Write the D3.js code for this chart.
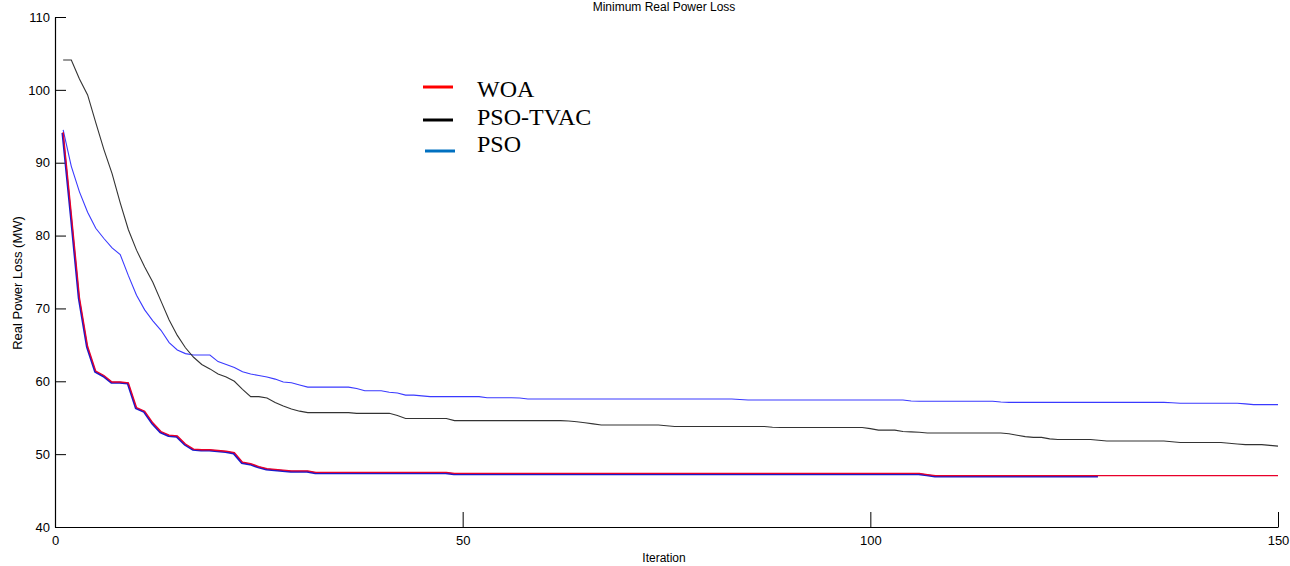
<!DOCTYPE html>
<html><head><meta charset="utf-8">
<script src="https://cdn.jsdelivr.net/npm/d3@7"></script>
<style>body{margin:0;background:#fff;}svg{display:block;}</style>
</head><body>
<svg id="c" width="1290" height="566"></svg>
<script>
const iterations = d3.range(1, 151);
const woa = [94.2,83.0,71.5,64.8,61.4,60.8,59.9,59.9,59.8,56.4,55.9,54.3,53.1,52.6,52.5,51.4,50.7,50.6,50.6,50.5,
 50.4,50.2,48.9,48.7,48.3,48.0,47.9,47.8,47.7,47.7,47.7,47.5,47.5,47.5,47.5,47.5,47.5,47.5,47.5,47.5,
 47.5,47.5,47.5,47.5,47.5,47.5,47.5,47.5,47.35,47.35,47.35,47.35,47.35,47.35,47.35,47.35,47.35,47.35,47.35,47.35,
 47.35,47.35,47.35,47.35,47.35,47.35,47.35,47.35,47.35,47.35,47.35,47.35,47.35,47.35,47.35,47.35,47.35,47.35,47.35,47.35,
 47.35,47.35,47.35,47.35,47.35,47.35,47.35,47.35,47.35,47.35,47.35,47.35,47.35,47.35,47.35,47.35,47.35,47.35,47.35,47.35,
 47.35,47.35,47.35,47.35,47.35,47.35,47.2,47.05,47.05,47.05,47.05,47.05,47.05,47.05,47.05,47.05,47.05,47.05,47.05,47.05,
 47.05,47.05,47.05,47.05,47.05,47.05,47.05,47.05,47.05,47.05,47.05,47.05,47.05,47.05,47.05,47.05,47.05,47.05,47.05,47.05,
 47.05,47.05,47.05,47.05,47.05,47.05,47.05,47.05,47.05,47.05];
const woaTraceLength = 128;
const psoTvac = [104.1,104.1,101.5,99.3,95.5,91.8,88.5,84.5,80.8,78.0,75.7,73.6,71.0,68.4,66.3,64.6,63.3,62.3,61.7,61.0,
 60.6,60.0,58.9,57.9,57.9,57.7,57.1,56.6,56.2,55.9,55.7,55.7,55.7,55.7,55.7,55.7,55.6,55.6,55.6,55.6,
 55.6,55.3,54.9,54.9,54.9,54.9,54.9,54.9,54.6,54.6,54.6,54.6,54.6,54.6,54.6,54.6,54.6,54.6,54.6,54.6,
 54.6,54.6,54.55,54.45,54.3,54.15,54.0,54.0,54.0,54.0,54.0,54.0,54.0,54.0,53.9,53.8,53.8,53.8,53.8,53.8,
 53.8,53.8,53.8,53.8,53.8,53.8,53.8,53.7,53.65,53.65,53.65,53.65,53.65,53.65,53.65,53.65,53.65,53.65,53.65,53.5,
 53.3,53.3,53.3,53.1,53.05,53.0,52.9,52.9,52.9,52.9,52.9,52.9,52.9,52.9,52.9,52.9,52.8,52.6,52.4,52.3,
 52.3,52.1,52.0,52.0,52.0,52.0,52.0,51.9,51.8,51.8,51.8,51.8,51.8,51.8,51.8,51.8,51.7,51.6,51.6,51.6,
 51.6,51.6,51.6,51.5,51.4,51.3,51.3,51.3,51.2,51.1];
const pso = [94.5,89.5,86.0,83.2,81.0,79.6,78.3,77.4,74.5,71.8,69.8,68.3,67.0,65.3,64.3,63.8,63.6,63.6,63.6,62.7,
 62.3,61.9,61.3,61.0,60.8,60.6,60.3,59.9,59.8,59.5,59.2,59.2,59.2,59.2,59.2,59.2,59.0,58.7,58.7,58.7,
 58.5,58.4,58.1,58.1,58.0,57.9,57.9,57.9,57.9,57.9,57.9,57.9,57.75,57.75,57.75,57.75,57.7,57.57,57.57,57.57,
 57.57,57.57,57.57,57.57,57.57,57.57,57.57,57.57,57.57,57.57,57.57,57.57,57.57,57.57,57.57,57.57,57.57,57.57,57.57,57.57,
 57.57,57.57,57.57,57.5,57.43,57.43,57.43,57.43,57.43,57.43,57.43,57.43,57.43,57.43,57.43,57.43,57.43,57.43,57.43,57.43,
 57.43,57.43,57.43,57.43,57.3,57.25,57.25,57.25,57.25,57.25,57.25,57.25,57.25,57.25,57.25,57.15,57.1,57.1,57.1,57.1,
 57.1,57.1,57.1,57.1,57.1,57.1,57.1,57.1,57.1,57.1,57.1,57.1,57.1,57.1,57.1,57.1,57.05,56.98,56.98,56.98,
 56.98,56.98,56.98,56.98,56.98,56.9,56.8,56.8,56.8,56.8];
const xTicks = [0, 50, 100, 150];
const yTicks = [40, 50, 60, 70, 80, 90, 100, 110];
const legendLabels = ["WOA", "PSO-TVAC", "PSO"];
const legendColors = ["#ff0000", "#000000", "#0070c0"];
const titleText = "Minimum Real Power Loss";
const xLabel = "Iteration";
const yLabel = "Real Power Loss (MW)";

const svg = d3.select("#c");
const x = d3.scaleLinear().domain([0, 150]).range([55, 1278]);
const y = d3.scaleLinear().domain([40, 110]).range([527, 17]);
const sans = "'Liberation Sans', Arial, sans-serif";

const line = d3.line().x((d, i) => x(iterations[i])).y(d => y(d));

// axes
const gy = svg.append("g").attr("transform", "translate(55,0)")
  .call(d3.axisLeft(y).tickValues(yTicks).tickSizeInner(-11).tickSizeOuter(0).tickPadding(5).tickFormat(d3.format("d")));
gy.selectAll("text").style("font-family", sans).style("font-size", "13px").attr("fill", "#000");
const gx = svg.append("g").attr("transform", "translate(0,527)")
  .call(d3.axisBottom(x).tickValues(xTicks).tickSizeInner(-15).tickSizeOuter(0).tickPadding(9).tickFormat(d3.format("d")));
gx.selectAll("text").style("font-family", sans).style("font-size", "13px").attr("fill", "#000");
svg.selectAll(".domain").attr("stroke", "#000").attr("stroke-width", 1.2);
svg.selectAll(".tick line").attr("stroke", "#000");

// lines
svg.append("path").datum(pso).attr("d", line).attr("fill", "none").attr("stroke", "#3a3aff").attr("stroke-width", 1.1);
svg.append("path").datum(psoTvac).attr("d", line).attr("fill", "none").attr("stroke", "#333333").attr("stroke-width", 1.1);
svg.append("path").datum(woa.slice(0, woaTraceLength)).attr("d", line).attr("transform", "translate(-0.7,0.8)")
  .attr("fill", "none").attr("stroke", "#1a1acc").attr("stroke-width", 2);
svg.append("path").datum(woa).attr("d", line).attr("fill", "none").attr("stroke", "#e8002a").attr("stroke-width", 1.3);

// title & labels
svg.append("text").attr("x", 664).attr("y", 11).attr("text-anchor", "middle")
  .style("font-family", sans).style("font-size", "12px").text(titleText);
svg.append("text").attr("x", 664).attr("y", 562).attr("text-anchor", "middle")
  .style("font-family", sans).style("font-size", "12px").text(xLabel);
svg.append("text").attr("transform", "translate(22,283) rotate(-90)").attr("text-anchor", "middle")
  .style("font-family", sans).style("font-size", "13px").text(yLabel);

// legend
const legendLineY = [87, 120, 151];
const legendTextY = [97, 124.5, 152];
const lg = svg.append("g");
legendLabels.forEach((lab, i) => {
  const dx = i === 2 ? 2 : 0;
  lg.append("line").attr("x1", 423 + dx).attr("x2", 453 + dx)
    .attr("y1", legendLineY[i]).attr("y2", legendLineY[i])
    .attr("stroke", legendColors[i]).attr("stroke-width", 3);
  lg.append("text").attr("x", 477).attr("y", legendTextY[i])
    .style("font-family", "'Liberation Serif', 'Times New Roman', serif").style("font-size", "24px").text(lab);
});
</script>
</body></html>
